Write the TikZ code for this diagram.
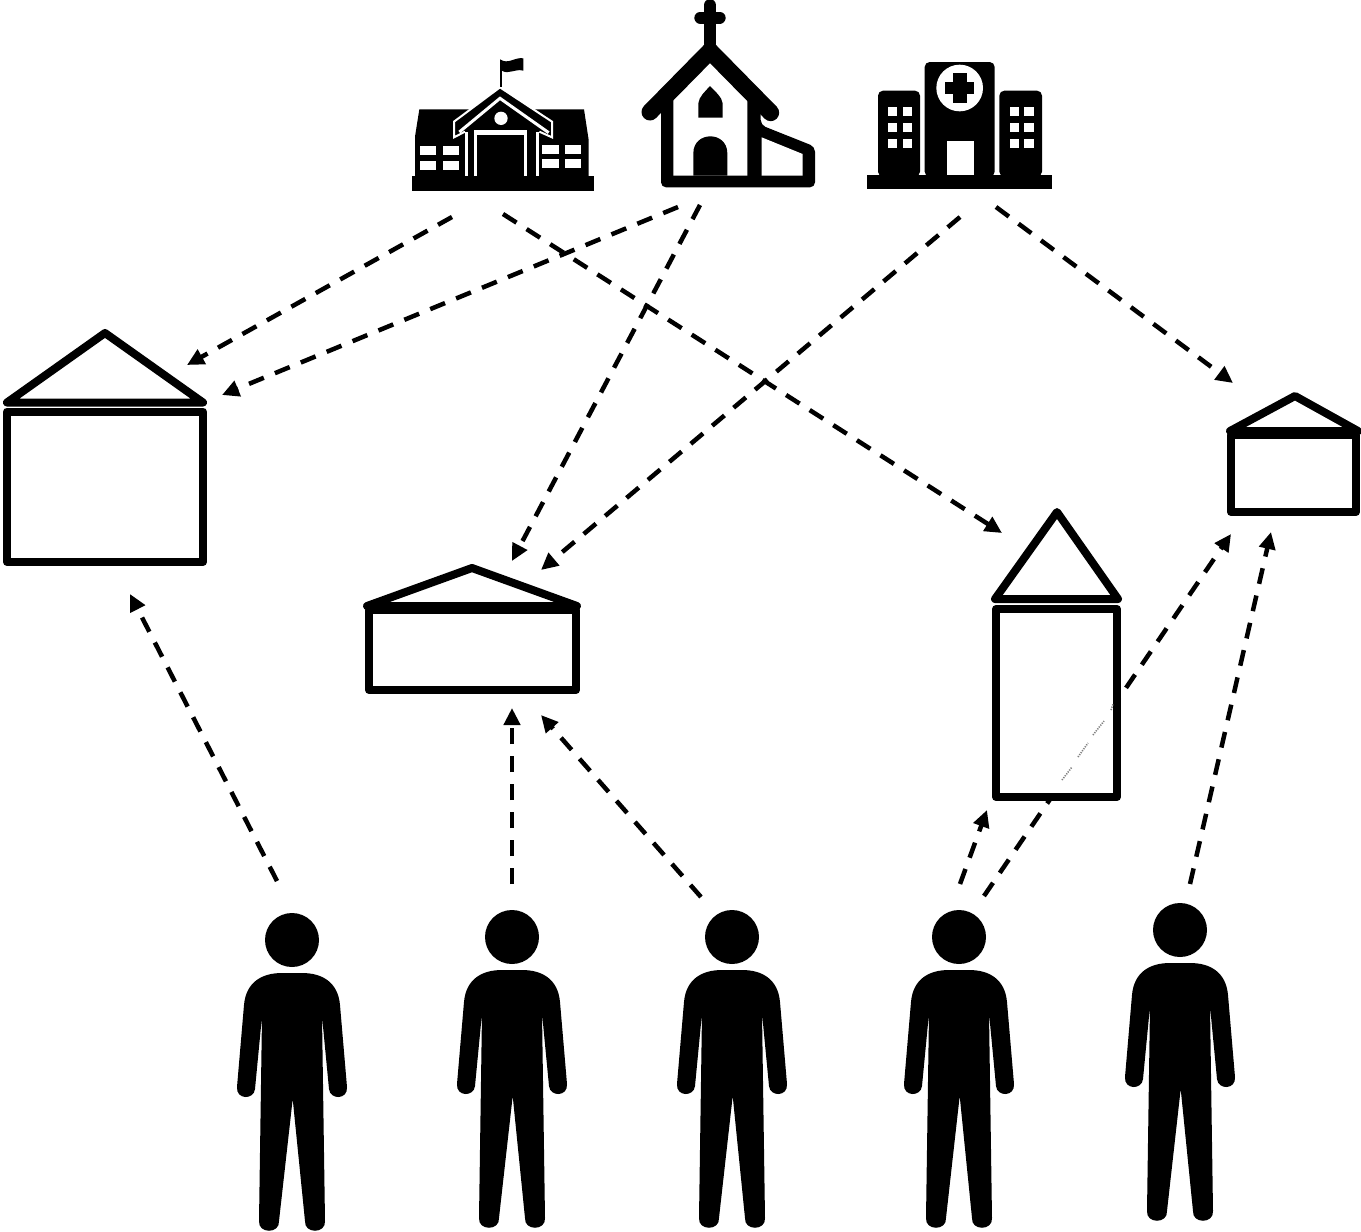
\documentclass[tikz,border=0pt]{standalone}
\usepackage{tikz}
\usepackage{xcolor}
\usetikzlibrary{arrows.meta}

\tikzset{
  link/.style={line width=4.5pt, dash pattern=on 16pt off 12pt, -{Triangle[length=17pt,width=16pt]}},
  wall/.style={line width=8pt, line join=round, fill=white},
  trace/.style={gray, line width=1.6pt, dash pattern=on 1.2pt off 1.2pt},
  person/.pic={
    \fill (0,0) circle (27);
    \fill (-10,33) -- (10,33) .. controls (30,33) and (46,42) .. (48,65) -- (55,147)
      .. controls (56,160) and (38,160) .. (37,149) -- (30,76) -- (33,281)
      .. controls (34,294) and (12,294) .. (13,281) -- (0.7,159)
      -- (-13,281) .. controls (-12,294) and (-34,294) .. (-33,281) -- (-30,76)
      -- (-37,149) .. controls (-38,160) and (-56,160) .. (-55,147) -- (-48,65)
      .. controls (-46,42) and (-30,33) .. (-10,33) -- cycle;
  }
}

\begin{document}
\begin{tikzpicture}[x=1pt,y=-1pt]
\useasboundingbox (0,0) rectangle (1361,1232);

% ends of the links
\coordinate (schoolA) at (452,217);
\coordinate (schoolB) at (503,214);
\coordinate (churchA) at (678,207);
\coordinate (churchB) at (700,205);
\coordinate (hospitalA) at (960,217);
\coordinate (hospitalB) at (996,207);
\coordinate (houseAa) at (187,365);
\coordinate (houseAb) at (222,395);
\coordinate (houseAc) at (130,594);
\coordinate (houseBa) at (512,561);
\coordinate (houseBb) at (541,570);
\coordinate (houseBc) at (512,708);
\coordinate (houseBd) at (541,715);
\coordinate (houseCa) at (1002,533);
\coordinate (houseCb) at (987,810);
\coordinate (houseDa) at (1233,383);
\coordinate (houseDb) at (1231,534);
\coordinate (houseDc) at (1271,532);
\coordinate (personA) at (277,881);
\coordinate (personB) at (512,884);
\coordinate (personC) at (701,897);
\coordinate (personDa) at (960,884);
\coordinate (personDb) at (984,896);
\coordinate (personE) at (1190,884);

\draw[link] (schoolA) -- (houseAa);
\draw[link] (churchA) -- (houseAb);
\draw[link] (schoolB) -- (houseCa);
\draw[link] (churchB) -- (houseBa);
\draw[link] (hospitalA) -- (houseBb);
\draw[link] (hospitalB) -- (houseDa);
\draw[link] (personA) -- (houseAc);
\draw[link] (personB) -- (houseBc);
\draw[link] (personC) -- (houseBd);
\draw[link] (personDa) -- (houseCb);
\draw[link] (personDb) -- (houseDb);
\draw[link] (personE) -- (houseDc);

% houses
\draw[wall] (7,402.5) -- (105,333) -- (203,402.5) -- cycle;
\draw[wall] (7,411.5) rectangle (203,562);
\draw[wall] (367,606) -- (472,568) -- (577,606) -- cycle;
\draw[wall] (369,610) rectangle (576,690);
\draw[wall] (995,599) -- (1057,512) -- (1118,599) -- cycle;
\draw[wall] (996,609) rectangle (1117,797);
\draw[wall] (1230,431) -- (1295,396) -- (1358,431) -- cycle;
\draw[wall] (1231,435) rectangle (1356,512);

% traces of the hidden link
\draw[trace] (1062,780) -- (1072,767);
\draw[trace] (1078,757) -- (1088,743);
\draw[trace] (1093,735) -- (1104,721);
\draw[trace] (1111,710) -- (1113,704);

% school
\begin{scope}[shift={(400,0)},scale=1/3]
\fill (36,528) rectangle (582,572);
\fill (58,328) -- (552,328) -- (566,420) -- (566,528) -- (45,528) -- (45,410) -- cycle;
\filldraw[draw=white, line width=2pt] (195,395) -- (162,412) -- (162,365) -- (300,262) -- (456,365) -- (456,412) -- (418,395);
\draw[white, line width=3pt] (178,396) -- (300,295) -- (446,398);
\fill[white] (303,355) circle (20);
\fill[white] (195,395) rectangle (203,528);
\fill[white] (222,392) rectangle (232,528);
\fill[white] (372,392) rectangle (382,528);
\fill[white] (408,395) rectangle (418,528);
\fill[white] (222,390) rectangle (382,405);
\foreach \wx/\wy in {60/438,128/438,60/482,128/482,427/436,495/436,427/478,495/478}
  \fill[white] (\wx,\wy) rectangle +(49,27);
\fill (300,180) rectangle (306,262);
\fill (300,178) .. controls (325,195) and (345,170) .. (370,175) -- (370,212)
  .. controls (345,205) and (325,225) .. (306,212) -- cycle;
\end{scope}

% church
\begin{scope}[shift={(400,0)},scale=1/3]
\fill[rounded corners=5pt] (783,300) -- (783,562) -- (1245,562) -- (1245,440) -- (1082,375) -- (1082,300) -- cycle;
\fill[white] (820,290) -- (930,180) -- (1042,290) -- (1042,527) -- (820,527) -- cycle;
\fill[white] (1085,412) -- (1208,462) -- (1208,527) -- (1085,527) -- cycle;
\fill (895,353) -- (895,310) .. controls (897,290) and (915,275) .. (930,258)
  .. controls (945,275) and (966,290) .. (968,310) -- (968,353) -- cycle;
\fill (880,527) -- (880,460) .. controls (880,392) and (982,392) .. (982,460) -- (982,527) -- cycle;
\draw[line width=17pt, line cap=round, line join=miter] (750,336) -- (930,153) -- (1112,338);
\draw[line width=12.5pt, line cap=round] (930,16) -- (930,130);
\draw[line width=12pt, line cap=round] (901,53) -- (959,53);
\end{scope}

% hospital
\begin{scope}[shift={(850,50)},scale=1/3]
\fill (52,375) rectangle (605,416);
\fill[rounded corners=5pt] (224,380) -- (224,36) -- (434,36) -- (434,380) -- cycle;
\fill[rounded corners=5pt] (84,380) -- (84,122) -- (210,122) -- (210,380) -- cycle;
\fill[rounded corners=5pt] (448,380) -- (448,122) -- (576,122) -- (576,380) -- cycle;
\fill[white] (329,114) circle (70);
\fill (285,95) rectangle (373,133);
\fill (308,70) rectangle (350,158);
\fill[white] (290,272) rectangle (372,375);
\foreach \wx in {114,159,479,523}
  \foreach \wy in {170,218,267}
    \fill[white] (\wx,\wy) rectangle +(28,28);
\end{scope}

% people
\pic at (292,940) {person};
\pic at (512,937) {person};
\pic at (732,937) {person};
\pic at (959,937) {person};
\pic at (1180,930) {person};

\end{tikzpicture}
\end{document}
